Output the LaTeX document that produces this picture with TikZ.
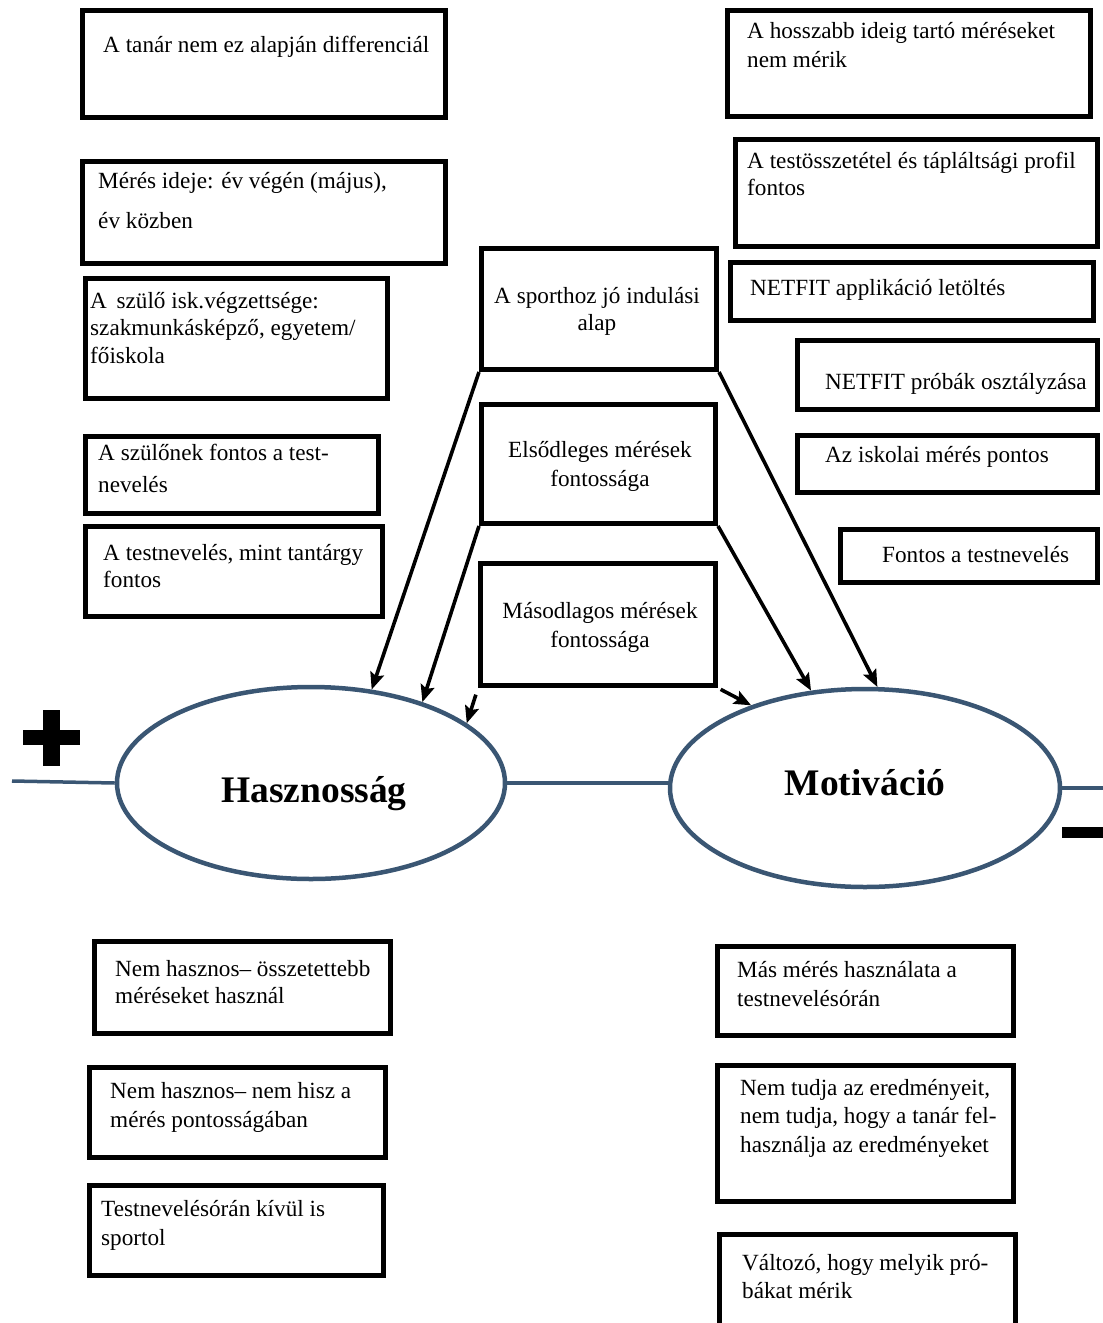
\documentclass[tikz,border=0pt]{standalone}
\usepackage{fontspec}
\setmainfont{Liberation Serif}
\usetikzlibrary{arrows.meta,shapes.geometric}
\definecolor{ovalblue}{HTML}{3A5673}
% framed panel given by its outer corners (x1,y1) (x2,y2)
\newcommand\drawpanel[5]{\node[panel, minimum width={#4-#2-5}, minimum height={#5-#3-5}] (#1) at ({(#2+#4)/2},{(#3+#5)/2}) {};}
\begin{document}
\begin{tikzpicture}[x=1pt,y=-1pt,
  panel/.style={draw, line width=5pt, inner sep=0pt, rectangle},
  txt/.style={inner sep=0pt, font=\fontsize{23.2}{29}\selectfont, anchor=base west},
  ctxt/.style={txt, anchor=base},
  oval/.style={ellipse, draw=ovalblue, line width=4.5pt, inner sep=0pt},
  big/.style={inner sep=0pt, font=\fontsize{37.5}{44}\selectfont\bfseries, anchor=base},
  link/.style={draw=ovalblue, line width=3.5pt},
  arr/.style={line width=3.6pt, -{Stealth[length=17pt,width=14pt,inset=3pt]}}]
\clip (0,0) rectangle (1103,1323);

% left column
\drawpanel{b1}{80}{8}{448}{120}
\node[txt] (b1a) at (103,52) {A tanár nem ez alapján differenciál};
\drawpanel{b2}{80}{159}{448}{266}
\node[txt] (b2a) at (98,188) {Mérés ideje: év végén (május),};
\node[txt] (b2b) at (98,228) {év közben};
\drawpanel{b3}{83}{276}{390}{401}
\node[txt] (b3a) at (90,308) {A\, szülő isk.végzettsége:};
\node[txt] (b3b) at (90,335) {szakmunkásképző, egyetem/};
\node[txt] (b3c) at (90,363) {főiskola};
\drawpanel{b4}{83}{434}{381}{516}
\node[txt] (b4a) at (98,460) {A szülőnek fontos a test-};
\node[txt] (b4b) at (98,492) {nevelés};
\drawpanel{b5}{83}{524}{385}{619}
\node[txt] (b5a) at (103,560) {A testnevelés, mint tantárgy};
\node[txt] (b5b) at (103,587) {fontos};

% centre column
\drawpanel{b6}{479}{246}{719}{372}
\node[ctxt] (b6a) at (597,303) {A sporthoz jó indulási};
\node[ctxt] (b6b) at (597,330) {alap};
\drawpanel{b7}{479}{402}{718}{526}
\node[ctxt] (b7a) at (600,457) {Elsődleges mérések};
\node[ctxt] (b7b) at (600,486) {fontossága};
\drawpanel{b8}{478}{561}{718}{688}
\node[ctxt] (b8a) at (600,618) {Másodlagos mérések};
\node[ctxt] (b8b) at (600,647) {fontossága};

% right column
\drawpanel{b9}{725}{8}{1093}{119}
\node[txt] (b9a) at (747,38) {A hosszabb ideig tartó méréseket};
\node[txt] (b9b) at (747,67) {nem mérik};
\drawpanel{b10}{733}{137}{1100}{249}
\node[txt] (b10a) at (747,168) {A testösszetétel és tápláltsági profil};
\node[txt] (b10b) at (747,195) {fontos};
\drawpanel{b11}{728}{260}{1096}{323}
\node[txt] (b11a) at (750,295) {NETFIT applikáció letöltés};
\drawpanel{b12}{795}{338}{1100}{412}
\node[txt] (b12a) at (825,389) {NETFIT próbák osztályzása};
\drawpanel{b13}{795}{433}{1100}{495}
\node[txt] (b13a) at (825,462) {Az iskolai mérés pontos};
\drawpanel{b14}{838}{527}{1100}{585}
\node[txt] (b14a) at (882,562) {Fontos a testnevelés};

% lower left
\drawpanel{b15}{92}{939}{393}{1036}
\node[txt] (b15a) at (115,976) {Nem hasznos– összetettebb};
\node[txt] (b15b) at (115,1003) {méréseket használ};
\drawpanel{b16}{87}{1065}{388}{1160}
\node[txt] (b16a) at (110,1098) {Nem hasznos– nem hisz a};
\node[txt] (b16b) at (110,1127) {mérés pontosságában};
\drawpanel{b17}{87}{1183}{386}{1278}
\node[txt] (b17a) at (101,1216) {Testnevelésórán kívül is};
\node[txt] (b17b) at (101,1245) {sportol};

% lower right
\drawpanel{b18}{715}{944}{1016}{1038}
\node[txt] (b18a) at (737,977) {Más mérés használata a};
\node[txt] (b18b) at (737,1006) {testnevelésórán};
\drawpanel{b19}{715}{1063}{1016}{1204}
\node[txt] (b19a) at (740,1095) {Nem tudja az eredményeit,};
\node[txt] (b19b) at (740,1123) {nem tudja, hogy a tanár fel-};
\node[txt] (b19c) at (740,1152) {használja az eredményeket};
\drawpanel{b20}{717}{1232}{1018}{1345}
\node[txt] (b20a) at (742,1270) {Változó, hogy melyik pró-};
\node[txt] (b20b) at (742,1298) {bákat mérik};

% the two ovals
\node[oval, minimum width=388, minimum height=192] (h) at (311,783) {};
\node[big] (hl) at (314,802) {Hasznosság};
\node[oval, minimum width=390, minimum height=198] (m) at (865,788) {};
\node[big] (ml) at (865,795) {Motiváció};

% axis line through the ovals
\coordinate (lend) at (12,781);
\coordinate (rend) at (1103,788);
\draw[link] (lend) -- (h.west);
\draw[link] (h.east) -- (h.east -| m.west);
\draw[link] (m.east) -- (rend);

% plus and minus signs
\fill (23,730) rectangle (80,745);
\fill (43,710) rectangle (60,766);
\fill (1062,827) rectangle (1103,838);

% arrows
\draw[arr] (b6.south west) -- (h.57.7);
\draw[arr] (b7.south west) -- (h.36.8);
\draw[arr, shorten <=7pt] (b8.south west) -- (h.21.7);
\draw[arr, shorten <=3pt] (b8.south east) -- (m.144.8);
\draw[arr] (b7.south east) -- (m.119.3);
\draw[arr] (b6.south east) -- (m.83.7);
\end{tikzpicture}
\end{document}
